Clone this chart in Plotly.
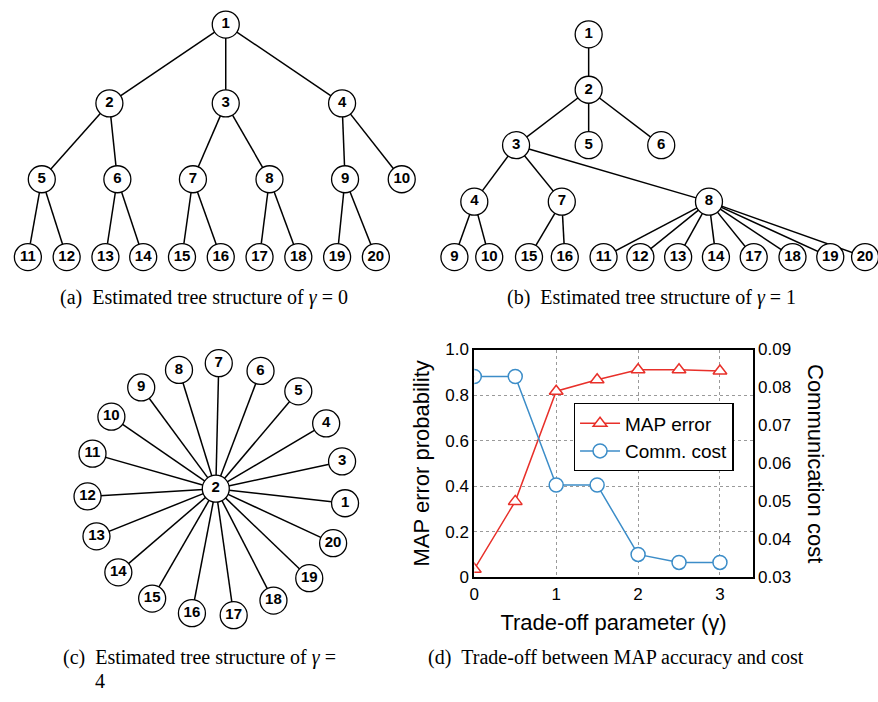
import plotly.graph_objects as go

# ---------------- tree (a): gamma = 0 ----------------
a_nodes = list(range(1, 21))
a_x = [222, 105, 222, 339, 37, 113, 189, 266, 342, 399,
       23, 62, 101, 139, 178, 217, 256, 295, 334, 373]
a_y = [16, 97, 97, 97, 175, 175, 175, 175, 175, 175,
       255, 255, 255, 255, 255, 255, 255, 255, 255, 255]
a_edges = [(1, 2), (1, 3), (1, 4), (2, 5), (2, 6), (3, 7), (3, 8), (4, 9), (4, 10),
           (5, 11), (5, 12), (6, 13), (6, 14), (7, 15), (7, 16), (8, 17), (8, 18),
           (9, 19), (9, 20)]

# ---------------- tree (b): gamma = 1 ----------------
b_nodes = list(range(1, 21))
b_x = [587, 587, 514, 472, 587, 660, 560, 708, 452, 487,
       602, 639, 677, 715, 527, 563, 753, 792, 830, 865]
b_y = [26, 83, 140, 198, 140, 140, 198, 198, 255, 255,
       255, 255, 255, 255, 255, 255, 255, 255, 255, 255]
b_edges = [(1, 2), (2, 3), (2, 5), (2, 6), (3, 4), (3, 7), (3, 8), (4, 9), (4, 10),
           (7, 15), (7, 16), (8, 11), (8, 12), (8, 13), (8, 14), (8, 17), (8, 18),
           (8, 19), (8, 20)]

# ---------------- tree (c): gamma = 4 (star) ----------------
c_nodes = list(range(1, 21))
c_x = [342, 212, 339, 323, 295, 257, 215, 175, 137, 107,
       88, 83, 92, 114, 148, 188, 230, 270, 306, 330]
c_y = [508, 493, 465, 426, 393, 372, 364, 371, 389, 419,
       457, 501, 542, 579, 606, 621, 623, 608, 585, 549]
c_edges = [(2, n) for n in c_nodes if n != 2]

# ---------------- panel (d): trade-off ----------------
gamma = [0, 0.5, 1, 1.5, 2, 2.5, 3]
map_error = [0.035, 0.333, 0.817, 0.867, 0.911, 0.911, 0.906]
comm_cost = [0.0829, 0.0829, 0.0543, 0.0543, 0.0360, 0.0339, 0.0339]
left_ticks = [0, 0.2, 0.4, 0.6, 0.8, 1.0]
left_labels = ["0", "0.2", "0.4", "0.6", "0.8", "1.0"]
right_ticks = [0.03, 0.04, 0.05, 0.06, 0.07, 0.08, 0.09]
right_labels = ["0.03", "0.04", "0.05", "0.06", "0.07", "0.08", "0.09"]

RED = "#e8302a"
BLUE = "#3c8dc8"
SANS = "Liberation Sans, Arial, sans-serif"
SERIF = "Liberation Serif, Times New Roman, serif"
NB = "\u00a0"

W, H = 878, 702

fig = go.Figure()


def add_tree(nodes, xs, ys, edges):
    pos = {n: (x, y) for n, x, y in zip(nodes, xs, ys)}
    ex, ey = [], []
    for u, v in edges:
        ex += [pos[u][0], pos[v][0], None]
        ey += [pos[u][1], pos[v][1], None]
    fig.add_trace(go.Scatter(x=ex, y=ey, mode="lines",
                             line=dict(color="black", width=1.5),
                             hoverinfo="skip", showlegend=False,
                             xaxis="x", yaxis="y"))
    fig.add_trace(go.Scatter(x=xs, y=ys, mode="markers+text",
                             text=[str(n) for n in nodes],
                             textposition="middle center",
                             textfont=dict(family=SANS, size=15, color="black", weight="bold"),
                             marker=dict(symbol="circle", size=27, color="white",
                                         line=dict(color="black", width=1.3)),
                             cliponaxis=False,
                             showlegend=False, xaxis="x", yaxis="y"))


add_tree(a_nodes, a_x, a_y, a_edges)
add_tree(b_nodes, b_x, b_y, b_edges)
add_tree(c_nodes, c_x, c_y, c_edges)

fig.add_trace(go.Scatter(x=gamma, y=map_error, mode="lines+markers", name="MAP error",
                         line=dict(color=RED, width=1.5),
                         marker=dict(symbol="triangle-up", size=12, color="white",
                                     line=dict(color=RED, width=1.5)),
                         xaxis="x2", yaxis="y2"))
fig.add_trace(go.Scatter(x=gamma, y=comm_cost, mode="lines+markers", name="Comm. cost",
                         line=dict(color=BLUE, width=1.5),
                         marker=dict(symbol="circle", size=14, color="white",
                                     line=dict(color=BLUE, width=1.5)),
                         xaxis="x2", yaxis="y3"))

# panel (d) plot-area edges in page pixels
x0, x1 = 472, 752
y0, y1 = 350, 584


def px(p):
    return p / W


def py(p):
    return 1 - p / H


captions = [
    dict(x=53, y=297, text=f"(a){NB}{NB}Estimated tree structure of <i>γ</i>{NB}={NB}0", xanchor="left"),
    dict(x=503, y=297, text=f"(b){NB}{NB}Estimated tree structure of <i>γ</i>{NB}={NB}1", xanchor="left"),
    dict(x=56, y=667, text=f"(c){NB}{NB}Estimated tree structure of <i>γ</i>{NB}=", xanchor="left"),
    dict(x=89, y=691, text="4", xanchor="left"),
    dict(x=423, y=667, text=f"(d){NB}{NB}Trade-off between MAP accuracy and cost", xanchor="left"),
]
annotations = []
for c in captions:
    annotations.append(dict(x=c["x"], y=c["y"], xref="x", yref="y", text=c["text"],
                            xanchor=c["xanchor"], yanchor="middle", showarrow=False,
                            font=dict(family=SERIF, size=20, color="black")))
annotations.append(dict(x=px(815), y=py((y0 + y1) / 2), xref="paper", yref="paper",
                        text="Communication cost", textangle=90, showarrow=False,
                        xanchor="center", yanchor="middle",
                        font=dict(family=SANS, size=22, color="black")))

fig.update_layout(
    width=W, height=H,
    margin=dict(l=0, r=0, t=0, b=0),
    paper_bgcolor="white", plot_bgcolor="white",
    showlegend=True,
    hovermode=False,
    legend=dict(x=px(572), y=py(405), xanchor="left", yanchor="top",
                bordercolor="black", borderwidth=1.3, bgcolor="white",
                font=dict(family=SANS, size=19, color="black"),
                tracegroupgap=0, itemwidth=40),
    xaxis=dict(domain=[0, 1], range=[0, W], visible=False, fixedrange=True),
    yaxis=dict(domain=[0, 1], range=[H, 0], visible=False, fixedrange=True),
    xaxis2=dict(domain=[px(x0), px(x1)], anchor="y2", range=[0, 3.4],
                tickvals=[0, 1, 2, 3], ticktext=["0", "1", "2", "3"],
                showline=True, linecolor="black", linewidth=2, mirror=True,
                showgrid=True, gridcolor="#9a9a9a", griddash="dot", gridwidth=1,
                zeroline=False, ticks="",
                tickfont=dict(family=SANS, size=17, color="black"),
                title=dict(text="Trade-off parameter (γ)", standoff=12,
                           font=dict(family=SANS, size=22, color="black"))),
    yaxis2=dict(domain=[py(y1), py(y0)], anchor="x2", range=[0, 1],
                tickvals=left_ticks, ticktext=left_labels,
                showline=True, linecolor="black", linewidth=2, mirror=True,
                showgrid=True, gridcolor="#9a9a9a", griddash="dot", gridwidth=1,
                zeroline=False, ticks="",
                tickfont=dict(family=SANS, size=17, color="black"),
                title=dict(text="MAP error probability", standoff=10,
                           font=dict(family=SANS, size=22, color="black"))),
    yaxis3=dict(overlaying="y2", anchor="x2", side="right", range=[0.03, 0.09],
                tickvals=right_ticks, ticktext=right_labels,
                showline=True, linecolor="black", linewidth=2,
                showgrid=False, zeroline=False, ticks="",
                tickfont=dict(family=SANS, size=17, color="black")),
    annotations=annotations,
)

fig.write_html("out.html",
               config={"displayModeBar": False},
               post_script="document.body.style.margin='0';document.body.style.overflow='hidden';")
